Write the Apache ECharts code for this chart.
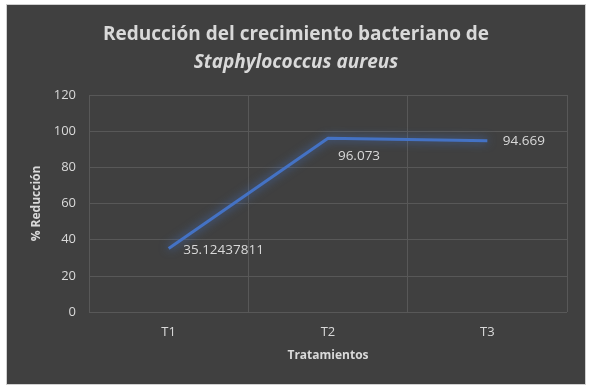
<!DOCTYPE html>
<html><head><meta charset="utf-8">
<script src="https://cdn.jsdelivr.net/npm/echarts@6/dist/echarts.min.js"></script>
<style>html,body{margin:0;padding:0;background:#fff;}#c{position:absolute;left:6px;top:4px;width:580px;height:381px;border:1px solid #d0d0d0;box-sizing:border-box;}</style>
</head><body><div id="c"></div>
<script>
const categories = ['T1', 'T2', 'T3'];
const reduccion = [35.12437811, 96.073, 94.669];
const labelTexts = ['35.12437811', '96.073', '94.669'];
const yTicks = [0, 20, 40, 60, 80, 100, 120];

const chart = echarts.init(document.getElementById('c'));
const txt = '#d9d9d9';
const font = 'Open Sans, Liberation Sans, sans-serif';
const labelPos = [
  { position: 'right', distance: 14, offset: [0, 2] },
  { position: 'bottom', distance: 10, offset: [31, 0] },
  { position: 'right', distance: 15, offset: [0, 0] }
];
chart.setOption({
  backgroundColor: '#404040',
  animation: false,
  title: {
    text: 'Reducción del crecimiento bacteriano de\n{i|Staphylococcus aureus}',
    left: 'center', top: 11,
    textStyle: {
      color: txt, fontSize: 19, fontWeight: 'bold', fontFamily: font, lineHeight: 28,
      rich: { i: { color: txt, fontSize: 19, fontWeight: 'bold', fontStyle: 'italic', fontFamily: font, lineHeight: 28 } }
    }
  },
  grid: { left: 82, right: 18, top: 90, bottom: 72 },
  xAxis: {
    type: 'category', data: categories, boundaryGap: true,
    axisLine: { show: false }, axisTick: { show: false },
    splitLine: { show: true, interval: 0, lineStyle: { color: '#585858', width: 1 } },
    axisLabel: { color: txt, fontSize: 13, fontFamily: font, margin: 14 },
    name: 'Tratamientos', nameLocation: 'middle', nameGap: 38,
    nameTextStyle: { color: txt, fontSize: 12, fontWeight: 'bold', fontFamily: font }
  },
  yAxis: {
    type: 'value', min: yTicks[0], max: yTicks[yTicks.length - 1], interval: 20,
    axisLine: { show: false }, axisTick: { show: false },
    splitLine: { lineStyle: { color: '#585858', width: 1 } },
    axisLabel: { color: txt, fontSize: 13, fontFamily: font, margin: 13 },
    name: '% Reducción', nameLocation: 'middle', nameGap: 44, nameRotate: 90,
    nameTextStyle: { color: txt, fontSize: 12, fontWeight: 'bold', fontFamily: font }
  },
  series: [{
    type: 'line', symbol: 'circle', symbolSize: 1, showSymbol: true,
    itemStyle: { color: 'rgba(0,0,0,0)' },
    data: reduccion.map((v, i) => ({ value: v, label: labelPos[i] })),
    lineStyle: { color: '#4472C4', width: 3, shadowBlur: 10, shadowColor: 'rgba(68,114,196,0.9)' },
    label: {
      show: true, color: txt, fontSize: 13.5, fontFamily: font,
      formatter: p => labelTexts[p.dataIndex]
    },
    emphasis: { disabled: true }
  }]
});
</script></body></html>
